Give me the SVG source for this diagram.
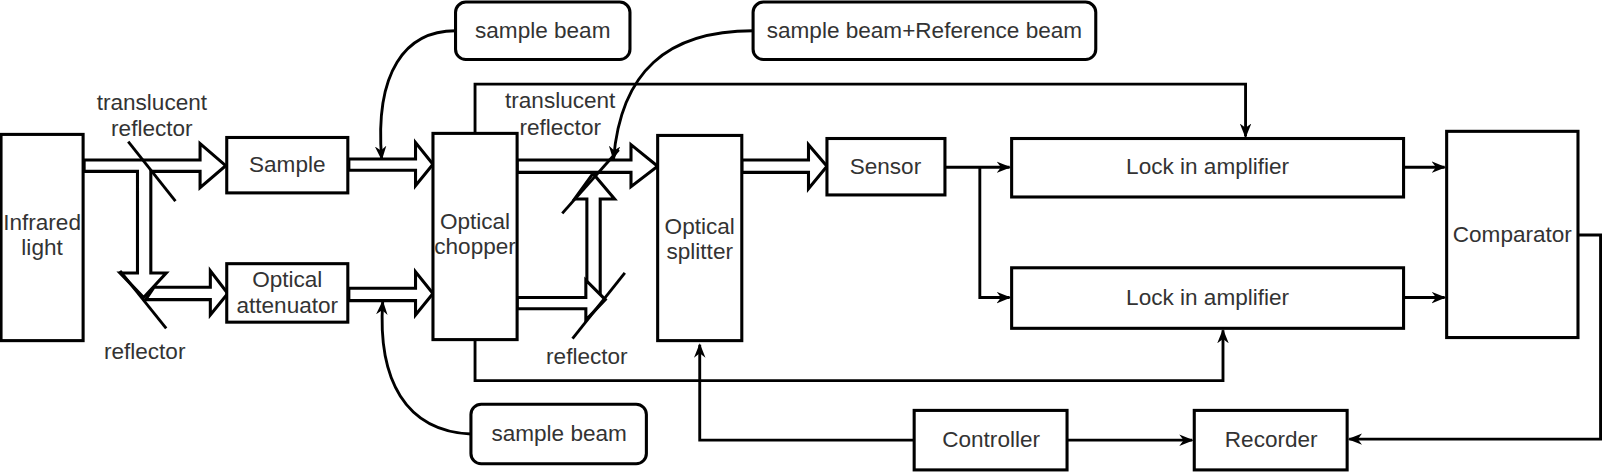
<svg xmlns="http://www.w3.org/2000/svg" width="1610" height="472" viewBox="0 0 1610 472">
<defs>
<style>
.b{fill:#fff;stroke:#000;stroke-width:3}
.h{fill:#fff;stroke:#000;stroke-width:3;stroke-linejoin:miter}
.c{fill:none;stroke:#000;stroke-width:2.8}
.m{fill:none;stroke:#000;stroke-width:2.8}
text{font-family:"Liberation Sans",Arial,sans-serif;font-size:22px;fill:#333;text-anchor:middle}
</style>
<marker id="a2" viewBox="0 0 10 10" refX="9" refY="5" markerWidth="14" markerHeight="14" markerUnits="userSpaceOnUse" orient="auto"><path d="M0,1 L10,5 L0,9 L3,5 Z" fill="#000"/></marker>
</defs>
<rect width="1610" height="472" fill="#fff"/>
<g transform="scale(1.026)">
<g id="connectors">
<polygon class="h" points="82,156 195,156 195,140 220,161.5 195,183 195,167 147,167 147,266 162,266 140,290 117,266 134,266 134,167 82,167"/>
<polygon class="h" points="150,280 205,280 205,264 222,286 205,307 205,292 142,292"/>
<polygon class="h" points="340,155 405,155 405,139 422,160 405,181 405,166 340,166"/>
<polygon class="h" points="340,281 405,281 405,265 422,286 405,307 405,293 340,293"/>
<polygon class="h" points="504,156 615,156 615,141 641,162 615,182 615,168 504,168"/>
<polygon class="h" points="585,295 585,194 599,194 578,169 560,194 572,194 572,295"/>
<polygon class="h" points="504,290 571,290 571,273 590,292 571,312 571,301 504,301"/>
<polygon class="h" points="723,156 788,156 788,141 806,162 788,184 788,168 723,168"/>
<line class="m" x1="125" y1="138" x2="171" y2="196"/>
<line class="m" x1="117" y1="264" x2="162" y2="320"/>
<line class="m" x1="548" y1="208" x2="603" y2="146"/>
<line class="m" x1="558" y1="330" x2="609" y2="266"/>
<path class="c" d="M463,130 V82 H1214 V133" marker-end="url(#a2)"/>
<path class="c" d="M463,331 V371 H1192 V322" marker-end="url(#a2)"/>
<path class="c" d="M921,163 H984" marker-end="url(#a2)"/>
<path class="c" d="M955,163 V290 H984" marker-end="url(#a2)"/>
<path class="c" d="M1368,163 H1408" marker-end="url(#a2)"/>
<path class="c" d="M1368,290 H1408" marker-end="url(#a2)"/>
<path class="c" d="M1538,229 H1560 V428 H1315" marker-end="url(#a2)"/>
<path class="c" d="M1040,429 H1162" marker-end="url(#a2)"/>
<path class="c" d="M891,429 H682 V336" marker-end="url(#a2)"/>
<path class="c" d="M444,30 C395,30 365,70 372,155" marker-end="url(#a2)"/>
<path class="c" d="M734,30 C650,30 605,70 598,155" marker-end="url(#a2)"/>
<path class="c" d="M459,423 C395,420 368,370 373,294" marker-end="url(#a2)"/>
</g>
<g id="infrared"><rect class="b" x="1" y="131" width="80" height="201"/><text x="41" y="224">Infrared</text><text x="41" y="249">light</text></g>
<g id="sample"><rect class="b" x="221" y="134" width="118" height="54"/><text x="280" y="168">Sample</text></g>
<g id="attenuator"><rect class="b" x="221" y="257" width="118" height="57"/><text x="280" y="280">Optical</text><text x="280" y="305">attenuator</text></g>
<g id="chopper"><rect class="b" x="422" y="130" width="82" height="201"/><text x="463" y="223">Optical</text><text x="463" y="248">chopper</text></g>
<g id="splitter"><rect class="b" x="641" y="132" width="82" height="200"/><text x="682" y="228">Optical</text><text x="682" y="252">splitter</text></g>
<g id="sensor"><rect class="b" x="806" y="135" width="115" height="55"/><text x="863" y="170">Sensor</text></g>
<g id="lia1"><rect class="b" x="986" y="135" width="382" height="57"/><text x="1177" y="170">Lock in amplifier</text></g>
<g id="lia2"><rect class="b" x="986" y="261" width="382" height="59"/><text x="1177" y="297">Lock in amplifier</text></g>
<g id="comparator"><rect class="b" x="1410" y="128" width="128" height="201"/><text x="1474" y="236">Comparator</text></g>
<g id="controller"><rect class="b" x="891" y="400" width="149" height="58"/><text x="966" y="436">Controller</text></g>
<g id="recorder"><rect class="b" x="1164" y="400" width="149" height="58"/><text x="1239" y="436">Recorder</text></g>
<g id="sb1"><rect class="b" x="444" y="2" width="170" height="56" rx="10"/><text x="529" y="37">sample beam</text></g>
<g id="sbr"><rect class="b" x="734" y="2" width="334" height="56" rx="10"/><text x="901" y="37">sample beam+Reference beam</text></g>
<g id="sb2"><rect class="b" x="459" y="394" width="171" height="58" rx="10"/><text x="545" y="430">sample beam</text></g>
<g id="labels">
<text x="148" y="107">translucent</text><text x="148" y="133">reflector</text>
<text x="141" y="350">reflector</text>
<text x="546" y="105">translucent</text><text x="546" y="132">reflector</text>
<text x="572" y="355">reflector</text>
</g>
</g>
</svg>
